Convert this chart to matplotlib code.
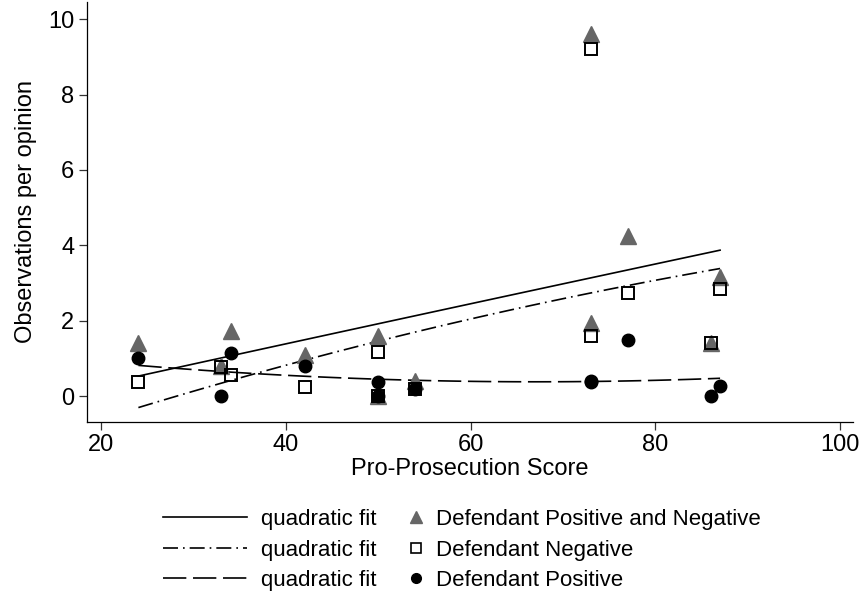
import numpy as np
import matplotlib
matplotlib.use('Agg')
import matplotlib.pyplot as plt
from matplotlib.lines import Line2D

plt.rcParams['font.family'] = ['Liberation Sans', 'DejaVu Sans']

# pro-prosecution score of each opinion
score = [24, 33, 34, 42, 50, 50, 54, 73, 73, 77, 86, 87]
# observations per opinion
both_obs = [1.4, 0.8, 1.72, 1.08, 1.6, 0.0, 0.4, 9.62, 1.95, 4.25, 1.42, 3.15]
neg_obs = [0.38, 0.78, 0.56, 0.25, 1.18, 0.0, 0.2, 9.2, 1.6, 2.74, 1.42, 2.84]
pos_obs = [1.0, 0.0, 1.15, 0.8, 0.38, 0.0, 0.2, 0.4, 0.36, 1.48, 0.0, 0.28]

x_ticks = [20, 40, 60, 80, 100]
y_ticks = [0, 2, 4, 6, 8, 10]

fig = plt.figure(figsize=(8.6, 5.95), dpi=100)
ax = fig.add_axes([0.1008, 0.2913, 0.8911, 0.7054])

xs = np.linspace(min(score), max(score), 100)
fit_styles = [
    dict(ls='-'),
    dict(ls=(0, (9, 3, 1, 3))),
    dict(ls=(0, (14, 4))),
]
for obs, st in zip([both_obs, neg_obs, pos_obs], fit_styles):
    c = np.polyfit(score, obs, 2)
    ax.plot(xs, np.polyval(c, xs), color='black', lw=1.2, **st)

ax.plot(score, both_obs, '^', color='#666666', ms=11, mec='#666666', ls='none')
ax.plot(score, neg_obs, 's', mfc='none', mec='black', mew=1.4, ms=8, ls='none')
ax.plot(score, pos_obs, 'o', color='black', ms=9, ls='none')

ax.set_xlim(18.4, 101.4)
ax.set_ylim(-0.68, 10.46)
ax.set_xticks(x_ticks)
ax.set_yticks(y_ticks)
ax.tick_params(labelsize=17, length=6, width=0.9, color='#333333', pad=3)
ax.spines['top'].set_visible(False)
ax.spines['right'].set_visible(False)
for s in ['left', 'bottom']:
    ax.spines[s].set_linewidth(0.9)
ax.set_xlabel('Pro-Prosecution Score', fontsize=17, labelpad=1)
ax.set_ylabel('Observations per opinion', fontsize=17, labelpad=8)

line_handles = [Line2D([], [], color='black', lw=1.2, **st) for st in fit_styles]
leg1 = fig.legend(line_handles, ['quadratic fit'] * 3, loc='center left',
                  bbox_to_anchor=(0.1895, 0.0756), frameon=False, fontsize=16,
                  handlelength=3.8, handletextpad=0.6, labelspacing=0.42,
                  borderpad=0, borderaxespad=0)
mark_handles = [
    Line2D([], [], marker='^', color='#666666', ms=9, ls='none'),
    Line2D([], [], marker='s', mfc='none', mec='black', mew=1.2, ms=7, ls='none'),
    Line2D([], [], marker='o', color='black', ms=7, ls='none'),
]
leg2 = fig.legend(mark_handles, ['Defendant Positive and Negative', 'Defendant Negative',
                                 'Defendant Positive'],
                  loc='center left', bbox_to_anchor=(0.471, 0.0756), frameon=False,
                  fontsize=16, handlelength=1.0, handletextpad=0.4,
                  labelspacing=0.42, borderpad=0, borderaxespad=0)

fig.savefig('out.png', dpi=100)
